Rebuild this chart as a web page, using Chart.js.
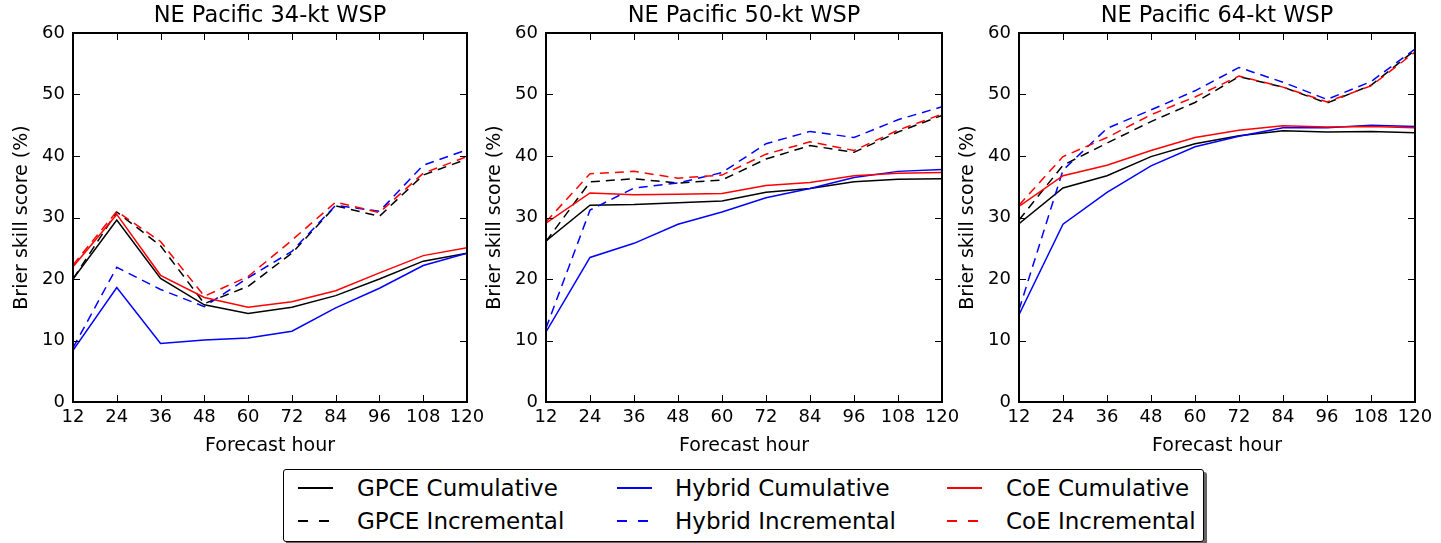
<!DOCTYPE html>
<html>
<head>
<meta charset="utf-8">
<script src="https://cdn.jsdelivr.net/npm/chart.js@4"></script>
<style>
  body { margin: 0; background: #fff; width: 1441px; height: 543px; overflow: hidden; position: relative; font-family: "DejaVu Sans", sans-serif; }
  canvas { position: absolute; top: 0; }
  #legend { position: absolute; left: 283px; top: 469px; width: 919px; height: 71px; border: 1px solid #000; border-radius: 3px; background: #fff; box-shadow: 3px 3px 0 #666; }
  .item { position: absolute; font-size: 23px; line-height: 27px; height: 27px; color: #000; white-space: nowrap; }
  .sample { position: absolute; width: 35px; height: 2px; }
</style>
</head>
<body>
<canvas id="p34" width="490" height="460" style="left:0px"></canvas>
<canvas id="p50" width="490" height="460" style="left:473px"></canvas>
<canvas id="p64" width="490" height="460" style="left:946px"></canvas>
<div id="legend"></div>

<script>
// forecast hours (x axis) and y ticks
const hours = [12, 24, 36, 48, 60, 72, 84, 96, 108, 120];
const yTicks = [0, 10, 20, 30, 40, 50, 60];

// NE Pacific 34-kt WSP
const gpceCum34 = [20.0, 29.6, 20.1, 15.8, 14.4, 15.4, 17.3, 20.0, 22.9, 24.2];
const gpceInc34 = [20.0, 30.9, 25.4, 16.0, 18.8, 24.2, 31.9, 30.2, 36.9, 39.5];
const hybridCum34 = [8.4, 18.6, 9.5, 10.1, 10.4, 11.5, 15.3, 18.5, 22.2, 24.2];
const hybridInc34 = [8.8, 21.9, 18.3, 15.5, 20.2, 24.5, 32.0, 31.0, 38.5, 41.0];
const coeCum34 = [22.0, 30.5, 20.6, 17.0, 15.4, 16.3, 18.1, 21.0, 23.8, 25.1];
const coeInc34 = [22.3, 31.0, 26.1, 17.2, 20.4, 26.3, 32.5, 30.8, 37.2, 39.9];

// NE Pacific 50-kt WSP
const gpceCum50 = [26.2, 32.0, 32.1, 32.4, 32.7, 34.1, 34.7, 35.8, 36.2, 36.3];
const gpceInc50 = [26.1, 35.8, 36.3, 35.6, 36.1, 39.5, 41.7, 40.6, 43.9, 46.6];
const hybridCum50 = [11.4, 23.5, 25.8, 28.9, 30.9, 33.2, 34.7, 36.5, 37.5, 37.8];
const hybridInc50 = [12.0, 31.2, 34.8, 35.6, 37.3, 42.0, 44.0, 43.0, 45.9, 48.0];
const coeCum50 = [29.1, 34.0, 33.7, 33.8, 33.9, 35.2, 35.7, 36.8, 37.2, 37.3];
const coeInc50 = [29.3, 37.1, 37.5, 36.4, 36.9, 40.3, 42.3, 40.9, 44.2, 46.8];

// NE Pacific 64-kt WSP
const gpceCum64 = [29.0, 34.8, 36.8, 39.9, 42.0, 43.3, 44.1, 43.9, 44.0, 43.8];
const gpceInc64 = [29.6, 38.5, 42.1, 45.6, 48.7, 52.9, 51.2, 48.6, 51.5, 57.2];
const hybridCum64 = [14.2, 28.9, 34.1, 38.4, 41.5, 43.2, 44.6, 44.6, 45.0, 44.8];
const hybridInc64 = [15.0, 37.7, 44.5, 47.5, 50.6, 54.4, 52.0, 49.2, 52.1, 57.4];
const coeCum64 = [31.8, 36.8, 38.5, 40.9, 43.0, 44.2, 44.9, 44.7, 44.8, 44.6];
const coeInc64 = [32.0, 39.9, 43.0, 46.7, 49.6, 53.0, 51.2, 48.8, 51.4, 56.9];

const seriesNames = ["GPCE Cumulative", "GPCE Incremental", "Hybrid Cumulative", "Hybrid Incremental", "CoE Cumulative", "CoE Incremental"];
const seriesColors = ["#000000", "#000000", "#0000ff", "#0000ff", "#ff0000", "#ff0000"];
const seriesDashed = [false, true, false, true, false, true];
const DASH = [9, 6];

// box round the plot + inward ticks on all four sides
const frame = {
  id: "frame",
  afterDatasetsDraw(chart) {
    const { ctx, chartArea: a, scales: { x, y } } = chart;
    ctx.save();
    ctx.strokeStyle = "#000";
    ctx.lineWidth = 1;
    ctx.beginPath();
    x.ticks.forEach((t) => {
      const px = Math.round(x.getPixelForValue(t.value)) + 0.5;
      ctx.moveTo(px, a.bottom); ctx.lineTo(px, a.bottom - 7);
      ctx.moveTo(px, a.top); ctx.lineTo(px, a.top + 7);
    });
    y.ticks.forEach((t) => {
      const py = Math.round(y.getPixelForValue(t.value)) + 0.5;
      ctx.moveTo(a.left, py); ctx.lineTo(a.left + 7, py);
      ctx.moveTo(a.right, py); ctx.lineTo(a.right - 7, py);
    });
    ctx.stroke();
    ctx.lineWidth = 2;
    ctx.strokeRect(a.left, a.top, a.width, a.height);
    ctx.restore();
  }
};

function makePanel(id, title, values, rightPad) {
  const datasets = values.map((v, i) => ({
    label: seriesNames[i],
    data: hours.map((h, j) => ({ x: h, y: v[j] })),
    borderColor: seriesColors[i],
    borderWidth: 1.5,
    borderDash: seriesDashed[i] ? DASH : [],
    pointRadius: 0,
    tension: 0,
    fill: false,
    order: values.length - i
  }));

  new Chart(document.getElementById(id), {
    type: "line",
    data: { datasets },
    plugins: [frame],
    options: {
      responsive: false,
      animation: false,
      devicePixelRatio: 1,
      layout: { padding: { left: 0, right: rightPad, top: 0, bottom: 0 }, autoPadding: false },
      plugins: {
        legend: { display: false },
        tooltip: { enabled: false },
        title: {
          display: true,
          text: title,
          fullSize: false,
          color: "#000",
          font: { family: "DejaVu Sans", size: 22.5, weight: "normal" },
          padding: { top: 2.5, bottom: 3.5 }
        }
      },
      scales: {
        x: {
          type: "linear",
          min: 12,
          max: 120,
          afterBuildTicks: (s) => { s.ticks = hours.map((v) => ({ value: v })); },
          afterFit: (s) => { s.height = 58; s.paddingLeft = 0; s.paddingRight = 0; },
          grid: { display: false, drawTicks: false },
          border: { display: false },
          ticks: { color: "#000", padding: 5, maxRotation: 0, autoSkip: false, font: { family: "DejaVu Sans", size: 18 } },
          title: { display: true, text: "Forecast hour", color: "#000", padding: { top: 0, bottom: 3 }, font: { family: "DejaVu Sans", size: 19 } }
        },
        y: {
          min: 0,
          max: 60,
          afterBuildTicks: (s) => { s.ticks = yTicks.map((v) => ({ value: v })); },
          afterFit: (s) => { s.width = 73; s.paddingTop = 0; s.paddingBottom = 0; },
          grid: { display: false, drawTicks: false },
          border: { display: false },
          ticks: { color: "#000", padding: 8, font: { family: "DejaVu Sans", size: 18 } },
          title: { display: true, text: "Brier skill score (%)", color: "#000", padding: { top: 11, bottom: 0 }, font: { family: "DejaVu Sans", size: 19 } }
        }
      }
    }
  });
}

makePanel("p34", "NE Pacific 34-kt WSP", [gpceCum34, gpceInc34, hybridCum34, hybridInc34, coeCum34, coeInc34], 23);
makePanel("p50", "NE Pacific 50-kt WSP", [gpceCum50, gpceInc50, hybridCum50, hybridInc50, coeCum50, coeInc50], 21);
makePanel("p64", "NE Pacific 64-kt WSP", [gpceCum64, gpceInc64, hybridCum64, hybridInc64, coeCum64, coeInc64], 21);

// legend: 3 columns, 2 rows (filled column by column)
const legend = document.getElementById("legend");
const colSample = [14, 333, 663];  // relative to legend box
const colText = [73, 391, 722];
const rowCenter = [18, 51];
seriesNames.forEach((name, i) => {
  const col = Math.floor(i / 2), row = i % 2;
  const s = document.createElement("div");
  s.className = "sample";
  s.style.left = colSample[col] + "px";
  s.style.top = (rowCenter[row] - 1) + "px";
  s.style.background = seriesDashed[i]
    ? `repeating-linear-gradient(90deg, ${seriesColors[i]} 0 10px, transparent 10px 21px)`
    : seriesColors[i];
  legend.appendChild(s);
  const t = document.createElement("div");
  t.className = "item";
  t.textContent = name;
  t.style.left = colText[col] + "px";
  t.style.top = (rowCenter[row] - 13) + "px";
  legend.appendChild(t);
});
</script>
</body>
</html>
